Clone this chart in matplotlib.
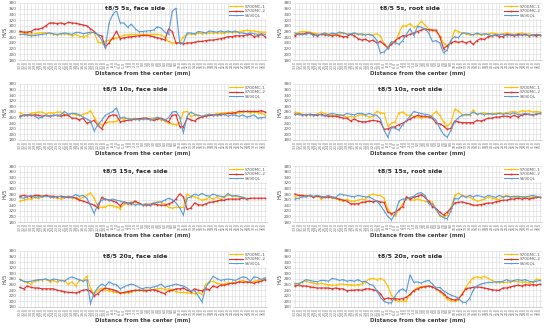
import numpy as np
import matplotlib
matplotlib.use("Agg")
import matplotlib.pyplot as plt

# Data (HV5 hardness along the line)

series_names = ["S700MC-1", "S700MC-2", "S690QL"]
series_colors = ["#FFC000", "#E0312B", "#5B9BD5"]
series_markers = ["D", "s", "^"]

distance = np.round(np.arange(-33, 34) * 1.0, 1)
tick_labels = ["%.1f" % d for d in distance]

titles = ["t8/5 5s, face side", "t8/5 5s, root side",
          "t8/5 10s, face side", "t8/5 10s, root side",
          "t8/5 15s, face side", "t8/5 15s, root side",
          "t8/5 20s, face side", "t8/5 20s, root side"]

face_5s_mc1 = [278,276,272,270,272,274,276,276,275,272,
               268,272,272,270,265,270,263,262,265,275,
               277,243,240,245,250,255,258,262,268,268,
               270,270,270,270,270,270,270,270,268,260,
               245,240,240,240,262,270,272,270,275,272,
               275,275,275,275,275,275,278,278,278,280,
               282,285,282,282,280,278,278]
face_5s_mc2 = [281,278,278,280,288,288,292,300,310,310,
               308,310,306,312,310,309,306,303,300,290,
               280,268,265,226,240,258,281,255,258,260,
               262,263,265,266,266,265,262,258,255,250,
               289,280,240,240,237,240,240,242,245,245,
               248,250,250,252,255,258,262,262,265,265,
               265,268,270,262,265,270,262]
face_5s_ql = [270,270,268,265,266,268,270,272,275,272,
              270,272,275,273,270,277,277,272,275,278,
              276,270,250,222,310,340,354,310,310,295,
              306,290,280,280,282,283,285,297,292,278,
              270,351,362,240,240,275,275,272,280,278,
              275,282,280,278,282,278,282,278,282,275,
              275,272,275,272,270,272,270]

root_5s_mc1 = [270,278,280,280,278,275,272,270,275,272,
               270,272,270,275,272,270,275,270,268,270,
               270,268,272,265,237,226,238,240,275,300,
               300,308,295,300,316,302,290,285,280,265,
               240,230,245,285,280,275,272,268,270,272,
               268,270,272,275,272,270,272,275,272,270,
               272,275,270,272,268,270,268]
root_5s_mc2 = [265,272,270,275,275,270,265,270,268,268,
               265,268,265,262,262,270,265,255,250,253,
               245,250,240,245,235,222,235,248,258,265,
               265,270,275,280,285,290,286,285,285,262,
               220,230,240,245,242,245,240,245,235,248,
               255,252,262,265,268,262,262,270,268,265,
               270,268,270,265,268,265,268]
root_5s_ql = [275,270,272,270,275,265,268,270,275,268,
              275,272,278,275,270,272,275,270,272,268,
              270,265,250,205,208,222,245,240,235,248,
              270,290,265,298,295,290,275,245,248,240,
              205,215,250,262,258,275,275,272,268,275,
              270,272,270,265,270,268,270,265,270,268,
              265,270,268,265,268,270,268]

face_10s_mc1 = [278,270,270,275,278,280,280,272,278,275,
                280,280,270,270,275,270,268,272,275,285,
                262,240,235,240,245,245,248,258,255,258,
                255,258,255,255,258,256,260,255,252,248,
                240,238,235,240,280,282,265,268,270,265,
                270,272,270,275,275,278,278,280,278,275,
                280,282,278,280,278,275,270]
face_10s_mc2 = [265,268,270,268,270,268,265,268,265,268,
                268,265,270,268,258,258,252,258,240,245,
                250,232,220,245,265,270,268,245,248,250,
                252,254,256,258,258,254,250,255,258,252,
                245,268,270,228,228,258,252,248,258,262,
                265,268,268,270,272,272,275,275,278,282,
                282,282,282,282,282,285,280]
face_10s_ql = [262,268,270,270,265,258,262,268,265,268,
               268,270,282,272,275,275,270,262,255,248,
               212,235,250,268,275,282,295,258,262,255,
               255,255,252,255,255,252,255,262,256,250,
               260,280,282,262,205,265,280,272,268,265,
               268,272,270,270,268,272,265,270,268,265,
               270,262,265,270,258,260,262]

root_10s_mc1 = [280,278,272,270,270,270,272,280,275,270,
                268,265,270,268,262,265,262,268,270,268,
                262,265,282,278,275,230,240,245,278,280,
                270,268,265,262,260,262,262,270,282,268,
                245,230,242,290,285,270,268,270,288,272,
                275,278,272,275,275,278,275,278,280,282,
                278,285,282,285,280,282,280]
root_10s_mc2 = [272,272,270,270,272,270,268,272,268,265,
                265,265,262,258,258,248,255,248,245,245,
                248,250,248,245,218,220,225,228,235,240,
                248,255,262,268,265,265,262,258,240,238,
                230,218,222,248,245,242,242,242,242,250,
                248,252,258,258,262,262,265,265,262,268,
                262,268,272,272,270,272,275]
root_10s_ql = [272,272,270,272,270,270,272,270,265,272,
               275,272,270,268,275,272,270,275,275,270,
               275,270,268,255,215,190,225,222,215,235,
               250,265,282,278,275,272,270,262,250,222,
               200,190,215,245,260,268,272,270,280,272,
               275,270,275,272,272,275,272,275,272,278,
               270,272,275,272,268,275,275]

face_15s_mc1 = [255,258,262,262,268,265,268,275,270,268,
                265,262,268,270,265,268,262,268,275,285,
                265,235,232,235,240,238,235,228,245,245,
                252,250,248,240,242,245,248,252,250,245,
                232,230,232,232,232,280,272,270,265,258,
                262,268,262,270,262,270,275,275,272,270,
                268,265]
face_15s_mc2 = [272,275,272,270,275,275,272,275,272,272,
                270,272,270,268,270,265,258,255,250,245,
                240,230,268,262,258,255,250,238,252,248,
                245,255,248,242,242,240,245,242,240,240,
                245,250,262,280,270,225,230,248,242,240,
                245,250,252,255,258,258,262,262,262,262,
                265,262,265,265,265,265,265]
face_15s_ql = [268,265,270,275,268,270,272,272,270,268,
               272,270,268,272,270,278,272,275,265,240,
               210,245,258,262,258,262,258,255,250,245,
               250,240,245,242,245,242,248,250,252,258,
               265,260,248,230,205,265,270,280,275,282,
               275,272,280,275,272,270,282,272,275,272,
               268,262]

root_15s_mc1 = [270,275,272,275,272,268,275,262,268,270,
                265,265,258,255,262,255,255,258,262,260,
                275,280,275,275,265,225,210,200,225,245,
                265,260,258,262,258,255,250,252,225,200,
                200,205,230,275,283,275,272,268,262,255,
                258,262,268,265,262,260,270,275,268,270,
                265,270,268,265,270,268,270]
root_15s_mc2 = [280,275,275,272,275,268,272,270,268,270,
                268,265,262,258,255,245,245,245,250,252,
                255,252,255,252,250,215,210,215,225,235,
                270,262,268,272,278,268,255,235,228,215,
                205,215,230,248,250,252,248,245,240,240,
                242,245,248,248,252,255,258,258,262,262,
                265,262,265,262,265,268,268]
root_15s_ql = [262,265,270,270,275,272,275,272,270,275,
               270,268,280,278,275,272,270,275,272,270,
               270,262,255,240,220,200,188,210,255,262,
               262,268,272,282,285,275,245,245,225,205,
               195,192,220,265,262,275,268,275,270,275,
               272,268,275,272,268,275,270,272,270,272,
               272,270,270,272,275,272,268]

face_20s_mc1 = [280,272,268,262,272,275,278,280,270,275,
                268,275,275,262,270,255,275,275,290,248,
                225,240,248,240,238,235,232,230,230,232,
                235,238,240,238,242,240,242,245,248,242,
                245,242,235,232,232,230,230,228,232,225,
                262,270,272,265,262,262,268,265,268,272,
                275,270,268,272,275,278,280]
face_20s_mc2 = [250,245,255,250,248,248,245,245,245,245,
                240,238,235,232,232,230,235,240,242,238,
                220,228,240,248,245,242,238,230,232,235,
                238,240,240,240,238,240,242,238,232,228,
                238,240,245,245,248,240,235,245,240,238,
                245,242,255,250,258,258,262,265,265,270,
                268,270,268,265,270,272,278]
face_20s_ql = [278,272,270,272,275,278,278,280,275,280,
               278,275,272,282,288,282,278,272,278,192,
               230,250,262,255,270,262,260,245,252,258,
               262,258,250,245,250,248,252,255,262,250,
               255,258,262,258,255,248,238,238,220,198,
               250,270,290,282,275,278,280,278,275,282,
               288,285,272,288,285,278,285]

root_20s_mc1 = [262,265,270,272,268,265,262,265,262,260,
                258,258,262,262,260,260,258,260,262,270,
                280,282,278,282,275,255,222,205,200,200,
                202,225,240,250,252,255,255,252,245,235,
                222,208,200,202,205,225,250,270,285,288,
                285,290,282,275,270,268,268,268,270,272,
                270,268,270,265,268,280,278]
root_20s_mc2 = [255,258,255,255,252,250,248,248,248,248,
                245,248,245,245,238,240,240,242,240,245,
                245,242,238,228,208,212,210,210,208,210,
                215,225,238,245,250,252,255,252,245,238,
                228,215,208,205,210,225,245,248,250,252,
                250,248,245,242,240,240,248,248,252,255,
                258,255,260,258,260,258,262]
root_20s_ql = [265,262,270,278,275,272,270,275,275,272,
               282,280,275,278,272,275,272,278,270,272,
               262,258,240,215,200,195,195,220,238,245,
               235,295,268,270,265,272,275,262,248,250,
               238,230,222,218,212,198,196,210,240,255,
               262,265,268,268,270,270,272,278,272,275,
               278,275,278,272,270,272,275]

panels = [
    [face_5s_mc1, face_5s_mc2, face_5s_ql],
    [root_5s_mc1, root_5s_mc2, root_5s_ql],
    [face_10s_mc1, face_10s_mc2, face_10s_ql],
    [root_10s_mc1, root_10s_mc2, root_10s_ql],
    [face_15s_mc1, face_15s_mc2, face_15s_ql],
    [root_15s_mc1, root_15s_mc2, root_15s_ql],
    [face_20s_mc1, face_20s_mc2, face_20s_ql],
    [root_20s_mc1, root_20s_mc2, root_20s_ql],
]

# Layout in pixels

W, H = 550, 329
fig = plt.figure(figsize=(W / 100, H / 100), dpi=100)

cols = [(18, 267), (293, 542)]
rows = [(3, 60), (84, 140), (166, 222), (251, 307)]
n = len(tick_labels)

for k, (title, data) in enumerate(zip(titles, panels)):
    left, right = cols[k % 2]
    top, bottom = rows[k // 2]
    ax = fig.add_axes([left / W, 1 - bottom / H, (right - left) / W, (bottom - top) / H])

    for vals, name, col, mk in zip(data, series_names, series_colors, series_markers):
        ax.plot(np.arange(len(vals)), vals, color=col, lw=0.8, marker=mk,
                markersize=1.2, markeredgewidth=0, label=name)

    ax.set_xlim(-0.5, n - 0.5)
    ax.set_ylim(180, 380)
    ax.set_yticks(range(180, 381, 20))
    ax.set_xticks(range(n))
    ax.set_xticklabels(tick_labels, rotation=90, fontsize=2.2, color="#595959")
    ax.tick_params(axis="y", labelsize=3, colors="#595959", length=0, pad=1)
    ax.tick_params(axis="x", length=0, pad=1)
    ax.grid(True, color="#d9d9d9", lw=0.4)
    ax.set_axisbelow(True)
    for s in ["top", "right", "left"]:
        ax.spines[s].set_visible(False)
    ax.spines["bottom"].set_color("#bfbfbf")
    ax.spines["bottom"].set_linewidth(0.5)

    ax.set_ylabel("HV5", fontsize=3.5, labelpad=1, color="#404040")
    ax.set_xlabel("Distance from the center (mm)", fontsize=4, fontweight="bold",
                  labelpad=1.5, color="#404040")
    ax.text(0.47, 0.91, title, transform=ax.transAxes, ha="center", va="center",
            fontsize=4.5, fontweight="bold", color="#262626",
            bbox=dict(fc="white", ec="none", pad=0.6))
    ax.legend(loc="upper right", bbox_to_anchor=(1.0, 1.0), fontsize=3,
              frameon=True, framealpha=1, edgecolor="none", handlelength=3.2,
              borderpad=0.2, labelspacing=0.15, handletextpad=0.4,
              borderaxespad=0.2, labelcolor="#595959")

fig.savefig("out.png", dpi=100)
